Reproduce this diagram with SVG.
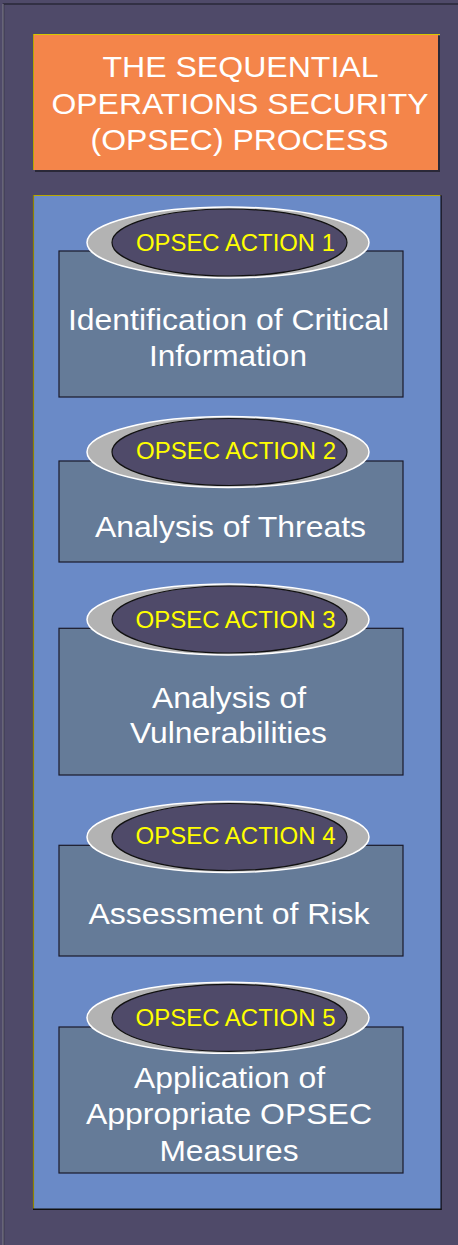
<svg xmlns="http://www.w3.org/2000/svg" width="458" height="1245" viewBox="0 0 458 1245">
  <style>
    .title { font-family: "Liberation Sans", Arial, sans-serif; font-size: 30px; fill: #ffffff; text-anchor: middle; }
    .body { font-family: "Liberation Sans", Arial, sans-serif; font-size: 30px; fill: #ffffff; text-anchor: middle; }
    .label { font-family: "Liberation Sans", Arial, sans-serif; font-size: 24px; fill: #ffff00; text-anchor: middle; }
    .box { fill: #657b98; stroke: #1a1a2a; stroke-width: 1.2; }
    .outerEll { fill: #b3b3b3; stroke: #ffffff; stroke-width: 1.5; }
    .innerEll { fill: #4f4a69; stroke: #111111; stroke-width: 1.2; }
  </style>
  <defs>
    <g id="badge">
      <ellipse class="outerEll" cx="0" cy="0" rx="141" ry="35.5"/>
      <ellipse class="innerEll" cx="1.5" cy="0" rx="117.5" ry="33.5"/>
    </g>
  </defs>

  <!-- background -->
  <rect x="0" y="0" width="458" height="1245" fill="#4f4a69"/>
  <rect x="3.5" y="4" width="458" height="1250" fill="none" stroke="#2a2838" stroke-width="1.5"/>
  <line x1="3" y1="4" x2="3" y2="1245" stroke="#8a8896" stroke-width="1"/>

  <!-- title -->
  <g id="title">
    <rect x="35" y="36" width="405" height="136" fill="#2a2838"/>
    <rect x="33" y="34" width="405" height="136" fill="#f4854a"/>
    <line x1="33" y1="34.5" x2="440" y2="34.5" stroke="#d8c800" stroke-width="1"/>
    <line x1="33.5" y1="34" x2="33.5" y2="170" stroke="#b8a800" stroke-width="1"/>
    <text class="title" x="240.5" y="77" textLength="276" lengthAdjust="spacingAndGlyphs">THE SEQUENTIAL</text>
    <text class="title" x="240" y="113.5" textLength="377" lengthAdjust="spacingAndGlyphs">OPERATIONS SECURITY</text>
    <text class="title" x="239.5" y="149.5" textLength="298" lengthAdjust="spacingAndGlyphs">(OPSEC) PROCESS</text>
  </g>

  <!-- panel -->
  <g id="panel">
    <rect x="34" y="196" width="408" height="1014" fill="#2a2838"/>
    <rect x="33" y="195" width="408" height="1014" fill="#6a8ac7"/>
    <line x1="33" y1="195.5" x2="441" y2="195.5" stroke="#b8a800" stroke-width="1"/>
    <line x1="33.5" y1="195" x2="33.5" y2="1209" stroke="#8f8400" stroke-width="1.2"/>
    <line x1="441" y1="195" x2="441" y2="1209.5" stroke="#1a1a2a" stroke-width="1.2"/>
    <line x1="33" y1="1209.3" x2="441.5" y2="1209.3" stroke="#111111" stroke-width="1.4"/>
  </g>

  <g id="action1">
    <rect class="box" x="59" y="251" width="344" height="146"/>
    <use href="#badge" x="228" y="242.5"/>
    <text class="label" x="235.5" y="251" textLength="199" lengthAdjust="spacingAndGlyphs">OPSEC ACTION 1</text>
    <text class="body" x="228.5" y="330" textLength="321" lengthAdjust="spacingAndGlyphs">Identification of Critical</text>
    <text class="body" x="228" y="365.5" textLength="158" lengthAdjust="spacingAndGlyphs">Information</text>
  </g>

  <g id="action2">
    <rect class="box" x="59" y="461" width="344" height="101"/>
    <use href="#badge" x="228" y="452"/>
    <text class="label" x="236" y="459.3" textLength="200" lengthAdjust="spacingAndGlyphs">OPSEC ACTION 2</text>
    <text class="body" x="230.5" y="537" textLength="271" lengthAdjust="spacingAndGlyphs">Analysis of Threats</text>
  </g>

  <g id="action3">
    <rect class="box" x="59" y="628.3" width="344" height="146.7"/>
    <use href="#badge" x="228" y="619.5"/>
    <text class="label" x="235.5" y="627.7" textLength="200" lengthAdjust="spacingAndGlyphs">OPSEC ACTION 3</text>
    <text class="body" x="229" y="707.7" textLength="154" lengthAdjust="spacingAndGlyphs">Analysis of</text>
    <text class="body" x="228.5" y="743.3" textLength="197" lengthAdjust="spacingAndGlyphs">Vulnerabilities</text>
  </g>

  <g id="action4">
    <rect class="box" x="59" y="845.3" width="344" height="110.7"/>
    <use href="#badge" x="228" y="837"/>
    <text class="label" x="235.5" y="844.3" textLength="200" lengthAdjust="spacingAndGlyphs">OPSEC ACTION 4</text>
    <text class="body" x="229" y="924.3" textLength="281" lengthAdjust="spacingAndGlyphs">Assessment of Risk</text>
  </g>

  <g id="action5">
    <rect class="box" x="59" y="1027" width="344" height="146"/>
    <use href="#badge" x="228" y="1017.8"/>
    <text class="label" x="235.5" y="1026" textLength="200" lengthAdjust="spacingAndGlyphs">OPSEC ACTION 5</text>
    <text class="body" x="229.5" y="1088" textLength="191" lengthAdjust="spacingAndGlyphs">Application of</text>
    <text class="body" x="229" y="1124" textLength="286" lengthAdjust="spacingAndGlyphs">Appropriate OPSEC</text>
    <text class="body" x="229" y="1161" textLength="139" lengthAdjust="spacingAndGlyphs">Measures</text>
  </g>
</svg>
